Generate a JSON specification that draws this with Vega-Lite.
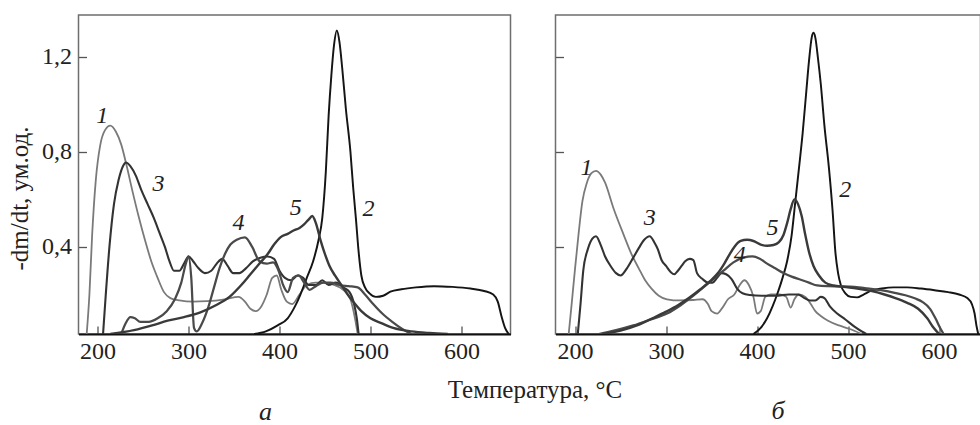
{
"$schema":"https://vega.github.io/schema/vega-lite/v6.json",
"padding":{"left":6.5,"top":14,"right":0,"bottom":0},
"bounds":"flush",
"spacing":45,
"background":"white",
"config":{
 "view":{"stroke":"#6e6e6e","strokeWidth":1.5},
 "font":"Liberation Serif",
 "axis":{"labelFont":"Liberation Serif","labelFontSize":24,"labelColor":"#222","titleFont":"Liberation Serif","titleFontSize":25,"titleFontWeight":"normal","titleColor":"#222","grid":false,"tickColor":"#555","tickWidth":1.3},
 "title":{"font":"Liberation Serif","fontSize":26,"fontStyle":"italic","fontWeight":"normal","color":"#222"}
},
"datasets":{
"curves":[
{"p":"a","c":"1","T":188,"v":0.034},{"p":"a","c":"1","T":191,"v":0.2},{"p":"a","c":"1","T":194,"v":0.45},{"p":"a","c":"1","T":198,"v":0.68},{"p":"a","c":"1","T":203,"v":0.83},{"p":"a","c":"1","T":208,"v":0.89},{"p":"a","c":"1","T":214,"v":0.91},{"p":"a","c":"1","T":220,"v":0.885},{"p":"a","c":"1","T":226,"v":0.83},{"p":"a","c":"1","T":232,"v":0.74},{"p":"a","c":"1","T":238,"v":0.64},{"p":"a","c":"1","T":245,"v":0.53},{"p":"a","c":"1","T":252,"v":0.43},{"p":"a","c":"1","T":259,"v":0.34},{"p":"a","c":"1","T":266,"v":0.27},{"p":"a","c":"1","T":273,"v":0.21},{"p":"a","c":"1","T":280,"v":0.185},{"p":"a","c":"1","T":290,"v":0.175},{"p":"a","c":"1","T":305,"v":0.17},{"p":"a","c":"1","T":320,"v":0.172},{"p":"a","c":"1","T":340,"v":0.18},{"p":"a","c":"1","T":355,"v":0.19},{"p":"a","c":"1","T":362,"v":0.17},{"p":"a","c":"1","T":368,"v":0.14},{"p":"a","c":"1","T":374,"v":0.13},{"p":"a","c":"1","T":380,"v":0.15},{"p":"a","c":"1","T":386,"v":0.2},{"p":"a","c":"1","T":392,"v":0.27},{"p":"a","c":"1","T":397,"v":0.28},{"p":"a","c":"1","T":402,"v":0.22},{"p":"a","c":"1","T":408,"v":0.17},{"p":"a","c":"1","T":414,"v":0.16},{"p":"a","c":"1","T":422,"v":0.2},{"p":"a","c":"1","T":430,"v":0.24},{"p":"a","c":"1","T":440,"v":0.25},{"p":"a","c":"1","T":450,"v":0.25},{"p":"a","c":"1","T":460,"v":0.24},{"p":"a","c":"1","T":470,"v":0.22},{"p":"a","c":"1","T":478,"v":0.18},{"p":"a","c":"1","T":483,"v":0.1},{"p":"a","c":"1","T":486,"v":0.034},
{"p":"a","c":"2","T":372,"v":0.034},{"p":"a","c":"2","T":385,"v":0.045},{"p":"a","c":"2","T":398,"v":0.07},{"p":"a","c":"2","T":409,"v":0.1},{"p":"a","c":"2","T":417,"v":0.15},{"p":"a","c":"2","T":423,"v":0.2},{"p":"a","c":"2","T":430,"v":0.27},{"p":"a","c":"2","T":437,"v":0.34},{"p":"a","c":"2","T":443,"v":0.43},{"p":"a","c":"2","T":447,"v":0.52},{"p":"a","c":"2","T":451,"v":0.72},{"p":"a","c":"2","T":454,"v":0.95},{"p":"a","c":"2","T":457,"v":1.12},{"p":"a","c":"2","T":460,"v":1.25},{"p":"a","c":"2","T":463,"v":1.31},{"p":"a","c":"2","T":466,"v":1.26},{"p":"a","c":"2","T":469,"v":1.15},{"p":"a","c":"2","T":473,"v":0.98},{"p":"a","c":"2","T":478,"v":0.8},{"p":"a","c":"2","T":481,"v":0.65},{"p":"a","c":"2","T":484,"v":0.52},{"p":"a","c":"2","T":487,"v":0.38},{"p":"a","c":"2","T":490,"v":0.28},{"p":"a","c":"2","T":494,"v":0.23},{"p":"a","c":"2","T":499,"v":0.205},{"p":"a","c":"2","T":506,"v":0.19},{"p":"a","c":"2","T":514,"v":0.195},{"p":"a","c":"2","T":522,"v":0.212},{"p":"a","c":"2","T":534,"v":0.222},{"p":"a","c":"2","T":550,"v":0.23},{"p":"a","c":"2","T":570,"v":0.235},{"p":"a","c":"2","T":590,"v":0.232},{"p":"a","c":"2","T":610,"v":0.225},{"p":"a","c":"2","T":625,"v":0.215},{"p":"a","c":"2","T":635,"v":0.2},{"p":"a","c":"2","T":640,"v":0.17},{"p":"a","c":"2","T":644,"v":0.11},{"p":"a","c":"2","T":648,"v":0.06},{"p":"a","c":"2","T":652,"v":0.034},
{"p":"a","c":"3","T":206,"v":0.034},{"p":"a","c":"3","T":209,"v":0.2},{"p":"a","c":"3","T":213,"v":0.4},{"p":"a","c":"3","T":218,"v":0.58},{"p":"a","c":"3","T":223,"v":0.68},{"p":"a","c":"3","T":228,"v":0.74},{"p":"a","c":"3","T":231,"v":0.755},{"p":"a","c":"3","T":236,"v":0.74},{"p":"a","c":"3","T":242,"v":0.7},{"p":"a","c":"3","T":248,"v":0.64},{"p":"a","c":"3","T":255,"v":0.58},{"p":"a","c":"3","T":262,"v":0.52},{"p":"a","c":"3","T":268,"v":0.46},{"p":"a","c":"3","T":274,"v":0.4},{"p":"a","c":"3","T":279,"v":0.34},{"p":"a","c":"3","T":284,"v":0.3},{"p":"a","c":"3","T":290,"v":0.3},{"p":"a","c":"3","T":295,"v":0.33},{"p":"a","c":"3","T":300,"v":0.36},{"p":"a","c":"3","T":305,"v":0.34},{"p":"a","c":"3","T":311,"v":0.31},{"p":"a","c":"3","T":318,"v":0.29},{"p":"a","c":"3","T":325,"v":0.3},{"p":"a","c":"3","T":331,"v":0.33},{"p":"a","c":"3","T":337,"v":0.35},{"p":"a","c":"3","T":343,"v":0.32},{"p":"a","c":"3","T":349,"v":0.29},{"p":"a","c":"3","T":356,"v":0.29},{"p":"a","c":"3","T":363,"v":0.31},{"p":"a","c":"3","T":371,"v":0.34},{"p":"a","c":"3","T":379,"v":0.355},{"p":"a","c":"3","T":387,"v":0.36},{"p":"a","c":"3","T":394,"v":0.35},{"p":"a","c":"3","T":400,"v":0.3},{"p":"a","c":"3","T":406,"v":0.27},{"p":"a","c":"3","T":413,"v":0.26},{"p":"a","c":"3","T":420,"v":0.28},{"p":"a","c":"3","T":426,"v":0.27},{"p":"a","c":"3","T":432,"v":0.24},{"p":"a","c":"3","T":440,"v":0.24},{"p":"a","c":"3","T":447,"v":0.26},{"p":"a","c":"3","T":454,"v":0.24},{"p":"a","c":"3","T":462,"v":0.25},{"p":"a","c":"3","T":470,"v":0.23},{"p":"a","c":"3","T":477,"v":0.21},{"p":"a","c":"3","T":482,"v":0.16},{"p":"a","c":"3","T":485,"v":0.1},{"p":"a","c":"3","T":487,"v":0.034},
{"p":"a","c":"4","T":226,"v":0.034},{"p":"a","c":"4","T":231,"v":0.08},{"p":"a","c":"4","T":236,"v":0.105},{"p":"a","c":"4","T":241,"v":0.1},{"p":"a","c":"4","T":247,"v":0.085},{"p":"a","c":"4","T":256,"v":0.085},{"p":"a","c":"4","T":266,"v":0.1},{"p":"a","c":"4","T":276,"v":0.13},{"p":"a","c":"4","T":285,"v":0.18},{"p":"a","c":"4","T":292,"v":0.25},{"p":"a","c":"4","T":297,"v":0.33},{"p":"a","c":"4","T":300,"v":0.36},{"p":"a","c":"4","T":303,"v":0.27},{"p":"a","c":"4","T":306,"v":0.06},{"p":"a","c":"4","T":309,"v":0.045},{"p":"a","c":"4","T":315,"v":0.08},{"p":"a","c":"4","T":322,"v":0.15},{"p":"a","c":"4","T":328,"v":0.23},{"p":"a","c":"4","T":334,"v":0.31},{"p":"a","c":"4","T":340,"v":0.37},{"p":"a","c":"4","T":346,"v":0.41},{"p":"a","c":"4","T":353,"v":0.43},{"p":"a","c":"4","T":362,"v":0.44},{"p":"a","c":"4","T":370,"v":0.4},{"p":"a","c":"4","T":378,"v":0.34},{"p":"a","c":"4","T":386,"v":0.33},{"p":"a","c":"4","T":393,"v":0.335},{"p":"a","c":"4","T":399,"v":0.3},{"p":"a","c":"4","T":404,"v":0.24},{"p":"a","c":"4","T":409,"v":0.21},{"p":"a","c":"4","T":415,"v":0.27},{"p":"a","c":"4","T":421,"v":0.28},{"p":"a","c":"4","T":427,"v":0.25},{"p":"a","c":"4","T":433,"v":0.22},{"p":"a","c":"4","T":440,"v":0.235},{"p":"a","c":"4","T":448,"v":0.25},{"p":"a","c":"4","T":456,"v":0.25},{"p":"a","c":"4","T":466,"v":0.24},{"p":"a","c":"4","T":476,"v":0.235},{"p":"a","c":"4","T":486,"v":0.23},{"p":"a","c":"4","T":494,"v":0.2},{"p":"a","c":"4","T":503,"v":0.16},{"p":"a","c":"4","T":513,"v":0.12},{"p":"a","c":"4","T":524,"v":0.085},{"p":"a","c":"4","T":535,"v":0.055},{"p":"a","c":"4","T":545,"v":0.034},
{"p":"a","c":"5","T":214,"v":0.034},{"p":"a","c":"5","T":240,"v":0.05},{"p":"a","c":"5","T":260,"v":0.07},{"p":"a","c":"5","T":277,"v":0.09},{"p":"a","c":"5","T":295,"v":0.105},{"p":"a","c":"5","T":313,"v":0.125},{"p":"a","c":"5","T":330,"v":0.155},{"p":"a","c":"5","T":345,"v":0.19},{"p":"a","c":"5","T":358,"v":0.24},{"p":"a","c":"5","T":368,"v":0.285},{"p":"a","c":"5","T":378,"v":0.33},{"p":"a","c":"5","T":387,"v":0.37},{"p":"a","c":"5","T":394,"v":0.41},{"p":"a","c":"5","T":401,"v":0.44},{"p":"a","c":"5","T":409,"v":0.455},{"p":"a","c":"5","T":416,"v":0.47},{"p":"a","c":"5","T":422,"v":0.48},{"p":"a","c":"5","T":427,"v":0.495},{"p":"a","c":"5","T":432,"v":0.515},{"p":"a","c":"5","T":436,"v":0.53},{"p":"a","c":"5","T":440,"v":0.5},{"p":"a","c":"5","T":445,"v":0.43},{"p":"a","c":"5","T":450,"v":0.37},{"p":"a","c":"5","T":455,"v":0.32},{"p":"a","c":"5","T":461,"v":0.28},{"p":"a","c":"5","T":468,"v":0.24},{"p":"a","c":"5","T":475,"v":0.2},{"p":"a","c":"5","T":482,"v":0.165},{"p":"a","c":"5","T":490,"v":0.13},{"p":"a","c":"5","T":500,"v":0.1},{"p":"a","c":"5","T":512,"v":0.08},{"p":"a","c":"5","T":525,"v":0.06},{"p":"a","c":"5","T":545,"v":0.045},{"p":"a","c":"5","T":565,"v":0.038},{"p":"a","c":"5","T":585,"v":0.034},
{"p":"b","c":"1","T":193,"v":0.034},{"p":"b","c":"1","T":196,"v":0.15},{"p":"b","c":"1","T":200,"v":0.31},{"p":"b","c":"1","T":204,"v":0.46},{"p":"b","c":"1","T":208,"v":0.59},{"p":"b","c":"1","T":213,"v":0.67},{"p":"b","c":"1","T":218,"v":0.71},{"p":"b","c":"1","T":223,"v":0.72},{"p":"b","c":"1","T":228,"v":0.705},{"p":"b","c":"1","T":233,"v":0.67},{"p":"b","c":"1","T":242,"v":0.565},{"p":"b","c":"1","T":253,"v":0.455},{"p":"b","c":"1","T":262,"v":0.37},{"p":"b","c":"1","T":270,"v":0.31},{"p":"b","c":"1","T":277,"v":0.26},{"p":"b","c":"1","T":284,"v":0.225},{"p":"b","c":"1","T":292,"v":0.195},{"p":"b","c":"1","T":301,"v":0.18},{"p":"b","c":"1","T":315,"v":0.175},{"p":"b","c":"1","T":330,"v":0.177},{"p":"b","c":"1","T":340,"v":0.18},{"p":"b","c":"1","T":346,"v":0.16},{"p":"b","c":"1","T":350,"v":0.13},{"p":"b","c":"1","T":356,"v":0.12},{"p":"b","c":"1","T":362,"v":0.145},{"p":"b","c":"1","T":368,"v":0.18},{"p":"b","c":"1","T":375,"v":0.2},{"p":"b","c":"1","T":381,"v":0.24},{"p":"b","c":"1","T":386,"v":0.26},{"p":"b","c":"1","T":391,"v":0.24},{"p":"b","c":"1","T":396,"v":0.19},{"p":"b","c":"1","T":400,"v":0.12},{"p":"b","c":"1","T":404,"v":0.13},{"p":"b","c":"1","T":409,"v":0.19},{"p":"b","c":"1","T":415,"v":0.2},{"p":"b","c":"1","T":425,"v":0.2},{"p":"b","c":"1","T":432,"v":0.19},{"p":"b","c":"1","T":437,"v":0.145},{"p":"b","c":"1","T":441,"v":0.18},{"p":"b","c":"1","T":446,"v":0.2},{"p":"b","c":"1","T":453,"v":0.19},{"p":"b","c":"1","T":459,"v":0.16},{"p":"b","c":"1","T":464,"v":0.13},{"p":"b","c":"1","T":470,"v":0.11},{"p":"b","c":"1","T":478,"v":0.09},{"p":"b","c":"1","T":490,"v":0.07},{"p":"b","c":"1","T":502,"v":0.055},{"p":"b","c":"1","T":515,"v":0.034},
{"p":"b","c":"2","T":396,"v":0.034},{"p":"b","c":"2","T":404,"v":0.06},{"p":"b","c":"2","T":411,"v":0.1},{"p":"b","c":"2","T":417,"v":0.15},{"p":"b","c":"2","T":422,"v":0.2},{"p":"b","c":"2","T":428,"v":0.27},{"p":"b","c":"2","T":433,"v":0.34},{"p":"b","c":"2","T":438,"v":0.45},{"p":"b","c":"2","T":442,"v":0.59},{"p":"b","c":"2","T":446,"v":0.73},{"p":"b","c":"2","T":450,"v":0.875},{"p":"b","c":"2","T":454,"v":1.05},{"p":"b","c":"2","T":457,"v":1.18},{"p":"b","c":"2","T":460,"v":1.28},{"p":"b","c":"2","T":462,"v":1.3},{"p":"b","c":"2","T":464,"v":1.28},{"p":"b","c":"2","T":467,"v":1.19},{"p":"b","c":"2","T":470,"v":1.085},{"p":"b","c":"2","T":474,"v":0.91},{"p":"b","c":"2","T":479,"v":0.73},{"p":"b","c":"2","T":483,"v":0.55},{"p":"b","c":"2","T":486,"v":0.38},{"p":"b","c":"2","T":489,"v":0.29},{"p":"b","c":"2","T":492,"v":0.24},{"p":"b","c":"2","T":497,"v":0.205},{"p":"b","c":"2","T":503,"v":0.19},{"p":"b","c":"2","T":510,"v":0.188},{"p":"b","c":"2","T":517,"v":0.2},{"p":"b","c":"2","T":525,"v":0.215},{"p":"b","c":"2","T":537,"v":0.225},{"p":"b","c":"2","T":550,"v":0.23},{"p":"b","c":"2","T":565,"v":0.23},{"p":"b","c":"2","T":580,"v":0.225},{"p":"b","c":"2","T":595,"v":0.218},{"p":"b","c":"2","T":610,"v":0.21},{"p":"b","c":"2","T":622,"v":0.2},{"p":"b","c":"2","T":631,"v":0.185},{"p":"b","c":"2","T":636,"v":0.16},{"p":"b","c":"2","T":639,"v":0.12},{"p":"b","c":"2","T":641,"v":0.07},{"p":"b","c":"2","T":643,"v":0.034},
{"p":"b","c":"3","T":203,"v":0.034},{"p":"b","c":"3","T":206,"v":0.16},{"p":"b","c":"3","T":209,"v":0.3},{"p":"b","c":"3","T":214,"v":0.39},{"p":"b","c":"3","T":219,"v":0.435},{"p":"b","c":"3","T":223,"v":0.445},{"p":"b","c":"3","T":228,"v":0.41},{"p":"b","c":"3","T":233,"v":0.36},{"p":"b","c":"3","T":239,"v":0.32},{"p":"b","c":"3","T":245,"v":0.29},{"p":"b","c":"3","T":250,"v":0.28},{"p":"b","c":"3","T":257,"v":0.31},{"p":"b","c":"3","T":264,"v":0.355},{"p":"b","c":"3","T":270,"v":0.395},{"p":"b","c":"3","T":276,"v":0.43},{"p":"b","c":"3","T":282,"v":0.445},{"p":"b","c":"3","T":287,"v":0.42},{"p":"b","c":"3","T":291,"v":0.39},{"p":"b","c":"3","T":295,"v":0.345},{"p":"b","c":"3","T":300,"v":0.32},{"p":"b","c":"3","T":305,"v":0.295},{"p":"b","c":"3","T":309,"v":0.285},{"p":"b","c":"3","T":313,"v":0.3},{"p":"b","c":"3","T":317,"v":0.32},{"p":"b","c":"3","T":321,"v":0.34},{"p":"b","c":"3","T":326,"v":0.35},{"p":"b","c":"3","T":330,"v":0.345},{"p":"b","c":"3","T":334,"v":0.29},{"p":"b","c":"3","T":340,"v":0.265},{"p":"b","c":"3","T":346,"v":0.25},{"p":"b","c":"3","T":351,"v":0.25},{"p":"b","c":"3","T":356,"v":0.27},{"p":"b","c":"3","T":361,"v":0.29},{"p":"b","c":"3","T":366,"v":0.285},{"p":"b","c":"3","T":372,"v":0.265},{"p":"b","c":"3","T":378,"v":0.225},{"p":"b","c":"3","T":384,"v":0.205},{"p":"b","c":"3","T":392,"v":0.198},{"p":"b","c":"3","T":405,"v":0.195},{"p":"b","c":"3","T":420,"v":0.195},{"p":"b","c":"3","T":435,"v":0.2},{"p":"b","c":"3","T":445,"v":0.2},{"p":"b","c":"3","T":452,"v":0.185},{"p":"b","c":"3","T":458,"v":0.175},{"p":"b","c":"3","T":464,"v":0.175},{"p":"b","c":"3","T":470,"v":0.19},{"p":"b","c":"3","T":474,"v":0.185},{"p":"b","c":"3","T":480,"v":0.15},{"p":"b","c":"3","T":488,"v":0.12},{"p":"b","c":"3","T":497,"v":0.095},{"p":"b","c":"3","T":507,"v":0.065},{"p":"b","c":"3","T":515,"v":0.045},{"p":"b","c":"3","T":520,"v":0.034},
{"p":"b","c":"4","T":226,"v":0.034},{"p":"b","c":"4","T":245,"v":0.05},{"p":"b","c":"4","T":264,"v":0.07},{"p":"b","c":"4","T":283,"v":0.095},{"p":"b","c":"4","T":301,"v":0.12},{"p":"b","c":"4","T":316,"v":0.155},{"p":"b","c":"4","T":330,"v":0.195},{"p":"b","c":"4","T":341,"v":0.23},{"p":"b","c":"4","T":352,"v":0.265},{"p":"b","c":"4","T":363,"v":0.3},{"p":"b","c":"4","T":374,"v":0.335},{"p":"b","c":"4","T":385,"v":0.355},{"p":"b","c":"4","T":395,"v":0.36},{"p":"b","c":"4","T":403,"v":0.35},{"p":"b","c":"4","T":411,"v":0.33},{"p":"b","c":"4","T":420,"v":0.31},{"p":"b","c":"4","T":429,"v":0.29},{"p":"b","c":"4","T":438,"v":0.275},{"p":"b","c":"4","T":448,"v":0.262},{"p":"b","c":"4","T":457,"v":0.25},{"p":"b","c":"4","T":466,"v":0.238},{"p":"b","c":"4","T":478,"v":0.235},{"p":"b","c":"4","T":492,"v":0.234},{"p":"b","c":"4","T":507,"v":0.232},{"p":"b","c":"4","T":521,"v":0.226},{"p":"b","c":"4","T":536,"v":0.218},{"p":"b","c":"4","T":550,"v":0.208},{"p":"b","c":"4","T":563,"v":0.197},{"p":"b","c":"4","T":574,"v":0.183},{"p":"b","c":"4","T":582,"v":0.168},{"p":"b","c":"4","T":590,"v":0.14},{"p":"b","c":"4","T":596,"v":0.1},{"p":"b","c":"4","T":601,"v":0.06},{"p":"b","c":"4","T":605,"v":0.034},
{"p":"b","c":"5","T":230,"v":0.034},{"p":"b","c":"5","T":250,"v":0.048},{"p":"b","c":"5","T":268,"v":0.07},{"p":"b","c":"5","T":285,"v":0.1},{"p":"b","c":"5","T":300,"v":0.128},{"p":"b","c":"5","T":313,"v":0.155},{"p":"b","c":"5","T":325,"v":0.185},{"p":"b","c":"5","T":337,"v":0.22},{"p":"b","c":"5","T":348,"v":0.255},{"p":"b","c":"5","T":357,"v":0.29},{"p":"b","c":"5","T":364,"v":0.33},{"p":"b","c":"5","T":370,"v":0.37},{"p":"b","c":"5","T":375,"v":0.4},{"p":"b","c":"5","T":382,"v":0.425},{"p":"b","c":"5","T":389,"v":0.43},{"p":"b","c":"5","T":396,"v":0.425},{"p":"b","c":"5","T":404,"v":0.41},{"p":"b","c":"5","T":411,"v":0.405},{"p":"b","c":"5","T":418,"v":0.408},{"p":"b","c":"5","T":424,"v":0.42},{"p":"b","c":"5","T":429,"v":0.45},{"p":"b","c":"5","T":433,"v":0.5},{"p":"b","c":"5","T":437,"v":0.56},{"p":"b","c":"5","T":441,"v":0.6},{"p":"b","c":"5","T":445,"v":0.58},{"p":"b","c":"5","T":449,"v":0.53},{"p":"b","c":"5","T":453,"v":0.45},{"p":"b","c":"5","T":457,"v":0.38},{"p":"b","c":"5","T":462,"v":0.32},{"p":"b","c":"5","T":468,"v":0.28},{"p":"b","c":"5","T":475,"v":0.25},{"p":"b","c":"5","T":484,"v":0.238},{"p":"b","c":"5","T":495,"v":0.232},{"p":"b","c":"5","T":510,"v":0.225},{"p":"b","c":"5","T":525,"v":0.215},{"p":"b","c":"5","T":540,"v":0.2},{"p":"b","c":"5","T":552,"v":0.185},{"p":"b","c":"5","T":565,"v":0.165},{"p":"b","c":"5","T":577,"v":0.14},{"p":"b","c":"5","T":587,"v":0.1},{"p":"b","c":"5","T":594,"v":0.06},{"p":"b","c":"5","T":600,"v":0.034}
],
"labels":[
{"p":"a","c":"1","T":205,"v":0.95},{"p":"a","c":"2","T":498,"v":0.56},{"p":"a","c":"3","T":267,"v":0.665},{"p":"a","c":"4","T":355,"v":0.5},{"p":"a","c":"5","T":418,"v":0.565},
{"p":"b","c":"1","T":212.6,"v":0.73},{"p":"b","c":"2","T":497,"v":0.64},{"p":"b","c":"3","T":282,"v":0.52},{"p":"b","c":"4","T":381,"v":0.365},{"p":"b","c":"5","T":417,"v":0.48}
]
},
"hconcat":[
{
 "width":432,"height":319,
 "title":{"text":"а","orient":"bottom","anchor":"middle","dx":-29,"offset":-3},
 "layer":[
  {"data":{"name":"curves"},"transform":[{"filter":"datum.p=='a'"}],
   "mark":{"type":"line","interpolate":"monotone","clip":true},
   "encoding":{
    "x":{"field":"T","type":"quantitative","scale":{"domain":[179,654],"nice":false,"zero":false},
      "axis":{"values":[200,300,400,500,600],"tickSize":-8,"labelPadding":13,"domainColor":"#111","domainWidth":2,"title":"Температура, °C","titleX":456,"titleY":63,"titleAlign":"center","titleBaseline":"alphabetic","titleAnchor":null}},
    "y":{"field":"v","type":"quantitative","scale":{"domain":[0.034,1.375],"nice":false,"zero":false},
      "axis":{"values":[0.4,0.8,1.2],"labelExpr":"replace(format(datum.value,'.1f'),'.',',')","tickSize":-8,"labelPadding":15,"domain":false,"title":"-dm/dt, ум.од.","titleX":-59,"titleY":183,"titleAngle":-90,"titleAlign":"center","titleBaseline":"middle"}},
    "color":{"field":"c","type":"nominal","scale":{"domain":["1","2","3","4","5"],"range":["#7a7a7a","#151515","#333333","#4a4a4a","#3a3a3a"]},"legend":null},
    "strokeWidth":{"field":"c","type":"nominal","scale":{"domain":["1","2","3","4","5"],"range":[1.8,2.4,1.9,1.8,1.8]},"legend":null}
   }},
  {"data":{"name":"labels"},"transform":[{"filter":"datum.p=='a'"}],
   "mark":{"type":"text","font":"Liberation Serif","fontStyle":"italic","fontSize":24,"color":"#222","align":"center","baseline":"middle"},
   "encoding":{"x":{"field":"T","type":"quantitative"},"y":{"field":"v","type":"quantitative"},"text":{"field":"c"}}}
 ]
},
{
 "width":425,"height":319,
 "title":{"text":"б","orient":"bottom","anchor":"middle","dx":10,"offset":35},
 "layer":[
  {"data":{"name":"curves"},"transform":[{"filter":"datum.p=='b'"}],
   "mark":{"type":"line","interpolate":"monotone","clip":true},
   "encoding":{
    "x":{"field":"T","type":"quantitative","scale":{"domain":[178.5,645.5],"nice":false,"zero":false},
      "axis":{"values":[200,300,400,500,600],"tickSize":-8,"labelPadding":13,"domainColor":"#111","domainWidth":2,"title":null}},
    "y":{"field":"v","type":"quantitative","scale":{"domain":[0.034,1.375],"nice":false,"zero":false},
      "axis":{"values":[0.4,0.8,1.2],"labels":false,"tickSize":-8,"domain":false,"title":null}},
    "color":{"field":"c","type":"nominal","scale":{"domain":["1","2","3","4","5"],"range":["#7a7a7a","#151515","#1e1e1e","#222222","#1e1e1e"]},"legend":null},
    "strokeWidth":{"field":"c","type":"nominal","scale":{"domain":["1","2","3","4","5"],"range":[1.8,2.4,2,2,2]},"legend":null}
   }},
  {"data":{"name":"labels"},"transform":[{"filter":"datum.p=='b'"}],
   "mark":{"type":"text","font":"Liberation Serif","fontStyle":"italic","fontSize":24,"color":"#222","align":"center","baseline":"middle"},
   "encoding":{"x":{"field":"T","type":"quantitative"},"y":{"field":"v","type":"quantitative"},"text":{"field":"c"}}}
 ]
}
]
}
